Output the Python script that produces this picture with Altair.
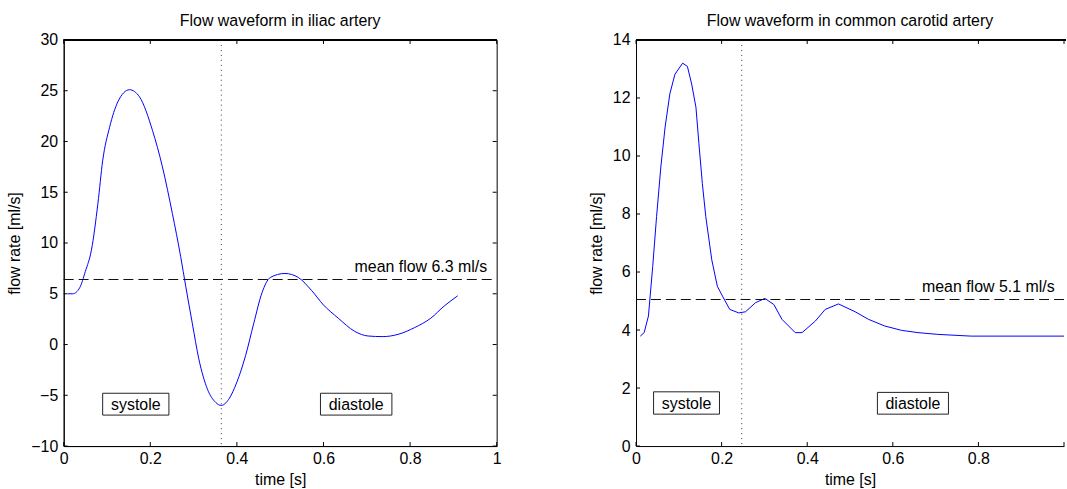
import altair as alt
import pandas as pd

FONT = "Liberation Sans"
FS = 16

# ---- iliac artery waveform ----
iliac_t = [0.01, 0.021, 0.037, 0.05, 0.064, 0.079, 0.09, 0.106, 0.125, 0.152,
           0.175, 0.205, 0.228, 0.251, 0.27, 0.282, 0.297, 0.312, 0.332, 0.351,
           0.364, 0.381, 0.4, 0.42, 0.439, 0.458, 0.477, 0.511, 0.542, 0.573,
           0.6, 0.634, 0.672, 0.703, 0.737, 0.772, 0.81, 0.848, 0.879, 0.91]
iliac_q = [5.0, 5.0, 5.6, 7.2, 9.3, 13.9, 18.1, 21.4, 23.9, 25.1,
           24.4, 21.1, 17.5, 12.9, 8.7, 5.7, 2.1, -1.4, -4.4, -5.7,
           -6.0, -5.4, -3.7, -1.1, 2.1, 5.1, 6.6, 7.0, 6.6, 5.3,
           3.9, 2.6, 1.3, 0.84, 0.78, 1.0, 1.66, 2.6, 3.8, 4.8]
iliac_mean = 6.4
iliac_mean_label = "mean flow 6.3 ml/s"
iliac_split = 0.364

# ---- common carotid artery waveform ----
carotid_t = [0.01, 0.019, 0.029, 0.039, 0.048, 0.058, 0.068, 0.079, 0.091, 0.109,
             0.12, 0.13, 0.14, 0.147, 0.155, 0.163, 0.177, 0.19, 0.202, 0.219,
             0.24, 0.256, 0.279, 0.301, 0.322, 0.341, 0.372, 0.388, 0.419, 0.442,
             0.473, 0.512, 0.543, 0.581, 0.62, 0.659, 0.705, 0.783, 1.0]
carotid_q = [3.79, 3.91, 4.48, 6.19, 7.91, 9.62, 11.0, 12.14, 12.82, 13.2,
             13.09, 12.48, 11.68, 10.42, 9.05, 7.91, 6.42, 5.51, 5.17, 4.71,
             4.59, 4.63, 4.94, 5.09, 4.88, 4.37, 3.91, 3.91, 4.31, 4.71,
             4.9, 4.63, 4.37, 4.14, 3.99, 3.91, 3.85, 3.79, 3.79]
carotid_mean = 5.05
carotid_mean_label = "mean flow 5.1 ml/s"
carotid_split = 0.247

# ---- phase label boxes (data coordinates) ----
phase_names = ["systole", "diastole"]
iliac_box_x1 = [0.09, 0.593]
iliac_box_x2 = [0.243, 0.758]
iliac_box_y1 = [-4.8, -4.8]
iliac_box_y2 = [-6.95, -6.95]
carotid_box_x1 = [0.041, 0.564]
carotid_box_x2 = [0.195, 0.730]
carotid_box_y1 = [1.87, 1.85]
carotid_box_y2 = [1.10, 1.10]

# ---- axes ----
x_ticks = [0, 0.2, 0.4, 0.6, 0.8, 1.0]
iliac_y_ticks = [-10, -5, 0, 5, 10, 15, 20, 25, 30]
carotid_y_ticks = [0, 2, 4, 6, 8, 10, 12, 14]

W_L, W_R, H = 435, 430, 408


def panel(title, t, q, mean, mean_label, split, bx1, bx2, by1, by2,
          ydom, yticks, xlabels, width, interp, right_border):
    xs = alt.Scale(domain=[0, 1], nice=False, zero=False)
    ys = alt.Scale(domain=ydom, nice=False, zero=False)
    xax = alt.Axis(values=xlabels, format="~g", title="time [s]",
                   labelPadding=5, titlePadding=5)
    yax = alt.Axis(values=yticks, format="~g", title="flow rate [ml/s]",
                   labelPadding=6, titlePadding=8)

    curve = pd.DataFrame({"t": t, "q": q})
    line = alt.Chart(curve).mark_line(color="#0000ff", strokeWidth=1,
                                      interpolate=interp).encode(
        x=alt.X("t:Q", scale=xs, axis=xax),
        y=alt.Y("q:Q", scale=ys, axis=yax),
    )

    mean_df = pd.DataFrame({"m": [mean], "x1": [0.0], "x2": [1.0], "label": [mean_label],
                            "lx": [0.978]})
    mean_rule = alt.Chart(mean_df).mark_rule(color="#111111", strokeWidth=1.1,
                                             strokeDash=[10, 5]).encode(
        x=alt.X("x1:Q", scale=xs), x2="x2:Q", y=alt.Y("m:Q", scale=ys))
    mean_text = alt.Chart(mean_df).mark_text(
        align="right", baseline="bottom", dy=-5, font=FONT, fontSize=FS,
        color="black").encode(
        x=alt.X("lx:Q", scale=xs), y=alt.Y("m:Q", scale=ys), text="label:N")

    split_df = pd.DataFrame({"s": [split]})
    split_rule = alt.Chart(split_df).mark_rule(color="#333333", strokeWidth=1,
                                               strokeDash=[1, 4]).encode(
        x=alt.X("s:Q", scale=xs))

    box_df = pd.DataFrame({"name": phase_names, "x1": bx1, "x2": bx2,
                           "y1": by1, "y2": by2})
    box_df["xc"] = (box_df.x1 + box_df.x2) / 2
    box_df["yc"] = (box_df.y1 + box_df.y2) / 2
    boxes = alt.Chart(box_df).mark_rect(fill="white", stroke="#222222",
                                        strokeWidth=1).encode(
        x=alt.X("x1:Q", scale=xs), x2="x2:Q",
        y=alt.Y("y1:Q", scale=ys), y2="y2:Q")
    box_text = alt.Chart(box_df).mark_text(font=FONT, fontSize=FS, color="black",
                                           baseline="middle", dy=1).encode(
        x=alt.X("xc:Q", scale=xs), y=alt.Y("yc:Q", scale=ys), text="name:N")

    # inward tick marks (MATLAB style)
    xt = pd.DataFrame({"v": x_ticks})
    yt = pd.DataFrame({"v": yticks})
    tick_layers = [
        alt.Chart(xt).mark_rule(color="black").encode(
            x=alt.X("v:Q", scale=xs), y=alt.value(H), y2=alt.value(H - 4)),
        alt.Chart(xt).mark_rule(color="black").encode(
            x=alt.X("v:Q", scale=xs), y=alt.value(0), y2=alt.value(4)),
        alt.Chart(yt).mark_rule(color="black").encode(
            y=alt.Y("v:Q", scale=ys), x=alt.value(0), x2=alt.value(4)),
    ]
    if right_border:
        tick_layers.append(alt.Chart(yt).mark_rule(color="black").encode(
            y=alt.Y("v:Q", scale=ys), x=alt.value(width - 4), x2=alt.value(width)))
    top_line = alt.Chart(xt).mark_rule(color="black", strokeWidth=1).encode(
        x=alt.value(0), x2=alt.value(width + (0 if right_border else 2)), y=alt.value(0))

    layers = [line, mean_rule, split_rule, boxes, box_text, mean_text] + tick_layers + [top_line]
    view = (alt.ViewBackground(stroke="black", strokeWidth=1) if right_border
            else alt.ViewBackground(strokeOpacity=0))
    return alt.layer(*layers).properties(
        width=width, height=H,
        title=alt.TitleParams(title, font=FONT, fontSize=FS, fontWeight="normal",
                              color="black", offset=3),
        view=view,
    )


left = panel("Flow waveform in iliac artery", iliac_t, iliac_q, iliac_mean,
             iliac_mean_label, iliac_split, iliac_box_x1, iliac_box_x2,
             iliac_box_y1, iliac_box_y2, [-10, 30], iliac_y_ticks, x_ticks,
             W_L, "monotone", True)
right = panel("Flow waveform in common carotid artery", carotid_t, carotid_q,
              carotid_mean, carotid_mean_label, carotid_split, carotid_box_x1,
              carotid_box_x2, carotid_box_y1, carotid_box_y2, [0, 14],
              carotid_y_ticks, x_ticks[:-1], W_R, "linear", False)

chart = alt.hconcat(left, right, spacing=87).properties(
    padding={"left": 6, "top": 11, "right": 0, "bottom": 0},
    background="white",
).configure_axis(
    grid=False, ticks=False, domain=True, domainColor="black", domainWidth=1,
    labelFont=FONT, labelFontSize=FS, labelColor="black",
    titleFont=FONT, titleFontSize=FS, titleFontWeight="normal", titleColor="black",
).configure_axisX(labelFlush=False)

chart.save("out.html", embed_options={"renderer": "svg", "actions": False})
